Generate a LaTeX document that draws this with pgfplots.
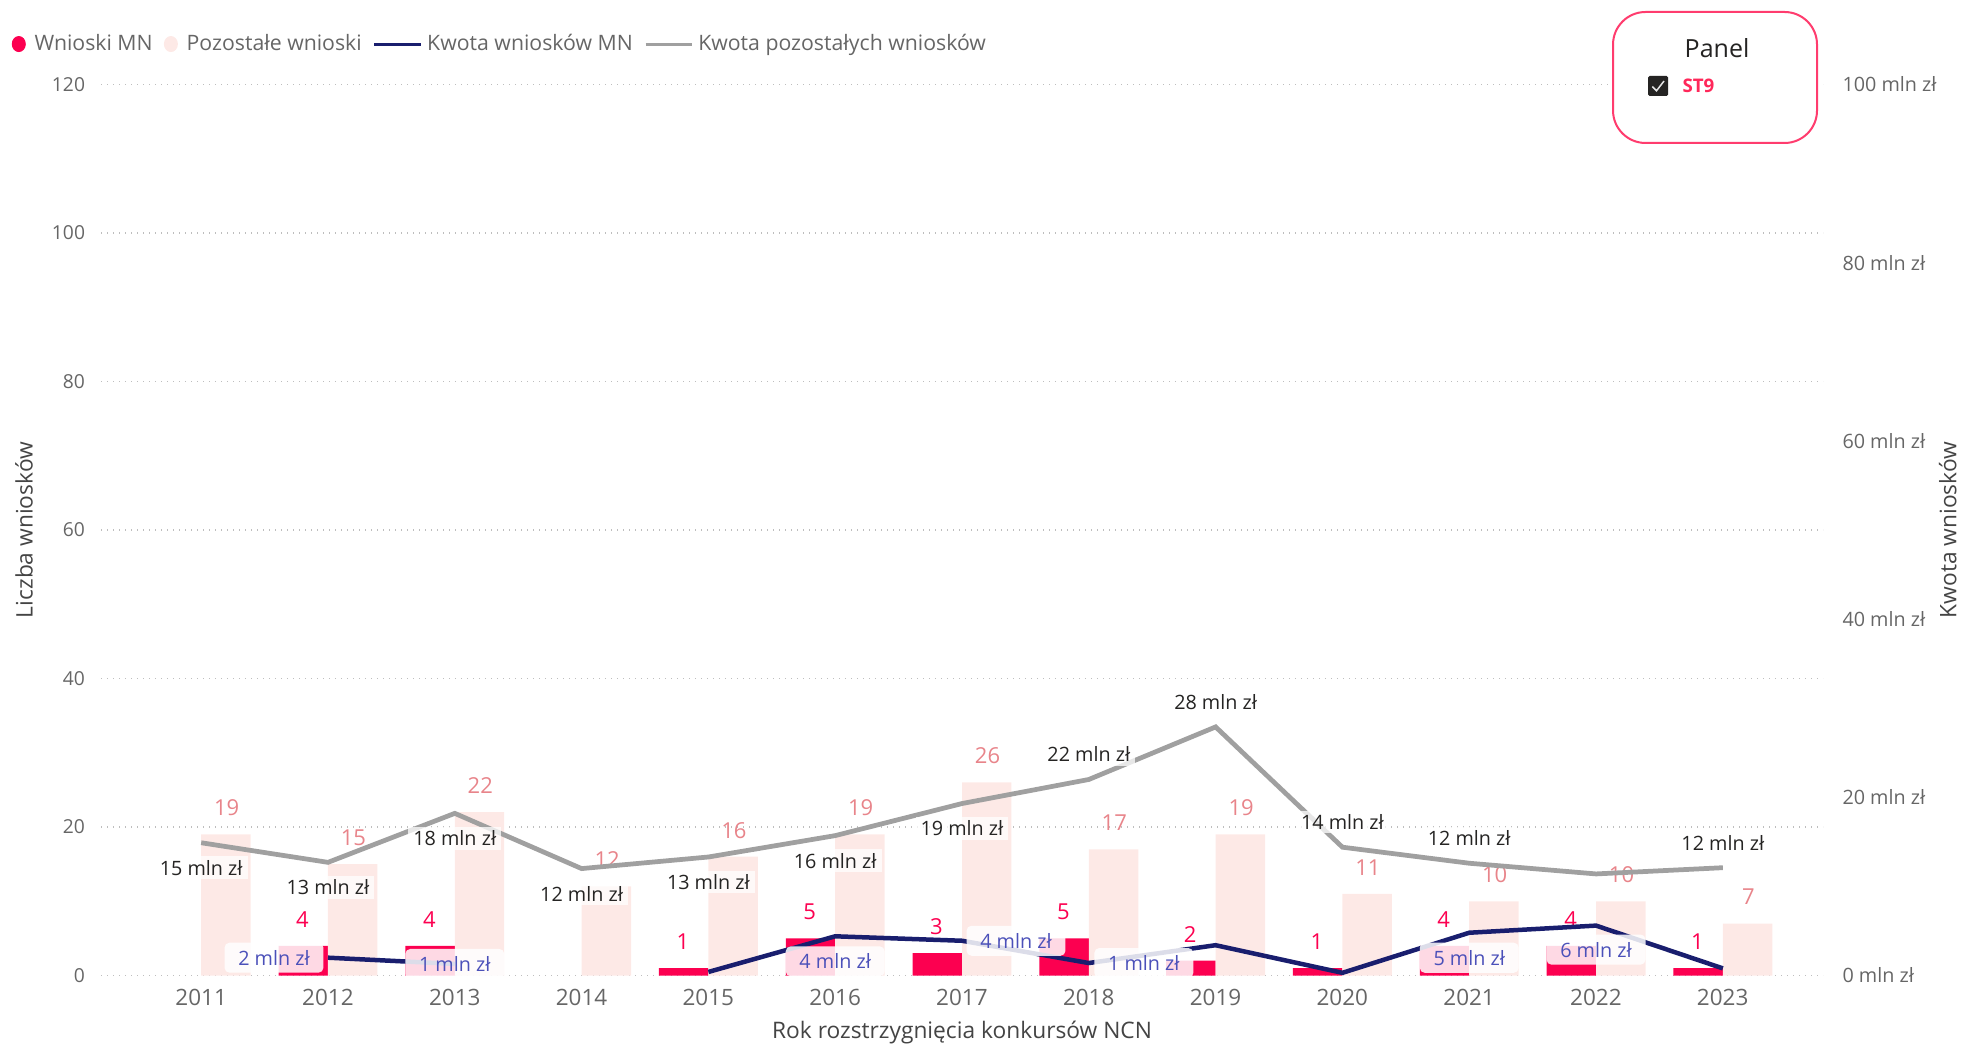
\documentclass[border=0pt]{standalone}
\usepackage{pgfplots}
\pgfplotsset{compat=1.18}
\usepackage{fontspec}
\setmainfont{Open Sans}
\definecolor{mnred}{RGB}{252,0,80}
\definecolor{pinkbar}{RGB}{253,233,230}
\definecolor{pinklabel}{RGB}{232,132,138}
\definecolor{navyline}{RGB}{25,30,110}
\definecolor{greyline}{RGB}{160,160,160}
\definecolor{bluelabel}{RGB}{75,80,185}
\definecolor{tickgray}{RGB}{102,102,102}
\definecolor{titlegray}{RGB}{68,68,68}
\definecolor{gridgray}{RGB}{190,190,190}
\definecolor{labelblack}{RGB}{37,36,35}
\definecolor{panelborder}{RGB}{255,60,110}
\definecolor{stred}{RGB}{255,40,90}
\tikzset{
  glab/.style={fill=white, fill opacity=0.75, text opacity=1, text=labelblack,
    font=\fontsize{7.9}{9}\selectfont, inner xsep=2pt, inner ysep=1.5pt, anchor=center},
  blab/.style={fill=white, fill opacity=0.85, text opacity=1, text=bluelabel,
    font=\fontsize{7.9}{9}\selectfont, rounded corners=2pt, inner xsep=5.5pt, inner ysep=3pt, anchor=center},
}
\begin{document}
\begin{tikzpicture}[x=1pt,y=1pt]
\path[use as bounding box] (0,0) rectangle (788.4,-419.2);
\pgfplotsset{
  every axis/.append style={
    scale only axis, width=688.8pt, height=356.4pt,
    at={(40.4pt,-390.2pt)}, anchor=south west,
    xmin=2010.21, xmax=2023.79,
    axis line style={draw=none}, major tick length=0pt,
    /pgf/number format/assume math mode=true,
    /pgf/number format/1000 sep={},
  },
}
\begin{axis}[
  ymin=0, ymax=120,
  ytick={0,20,...,120},
  xtick={2011,...,2023},
  ymajorgrids, grid style={dotted, gridgray, line width=0.7pt},
  xticklabel style={font=\fontsize{9}{10}\selectfont, text=tickgray, anchor=center, yshift=-8.8pt},
  yticklabel style={font=\fontsize{7.7}{9}\selectfont, text=tickgray, anchor=east, inner xsep=0pt, xshift=-6.2pt},
  xlabel={Rok rozstrzygnięcia konkursów NCN},
  ylabel={Liczba wniosków},
  xlabel style={font=\fontsize{9.1}{10}\selectfont, text=titlegray, at={(axis description cs:0.5,-0.0645)}, anchor=center},
  ylabel style={font=\fontsize{9.1}{10}\selectfont, text=titlegray, at={(axis description cs:-0.0447,0.5)}, anchor=center},
]
\addplot[ybar, bar width=0.39, bar shift=-0.195, fill=mnred, draw=none,
  nodes near coords,
  every node near coord/.append style={font=\fontsize{8.8}{10}\selectfont, text=mnred, anchor=center, yshift=10.6pt, xshift=-10.2pt}]
  coordinates {(2012,4) (2013,4) (2015,1) (2016,5) (2017,3) (2018,5) (2019,2) (2020,1) (2021,4) (2022,4) (2023,1)};
\addplot[ybar, bar width=0.39, bar shift=0.195, fill=pinkbar, draw=none,
  nodes near coords,
  every node near coord/.append style={font=\fontsize{8.8}{10}\selectfont, text=pinklabel, anchor=center, yshift=10.6pt, xshift=10.2pt}]
  coordinates {(2011,19) (2012,15) (2013,22) (2014,12) (2015,16) (2016,19) (2017,26) (2018,17) (2019,19) (2020,11) (2021,10) (2022,10) (2023,7)};
\end{axis}
\begin{axis}[
  ymin=0, ymax=100,
  axis x line=none, axis y line*=right,
  ytick={0,20,...,100},
  yticklabels={0 mln zł,20 mln zł,40 mln zł,60 mln zł,80 mln zł,100 mln zł},
  yticklabel style={font=\fontsize{7.9}{9}\selectfont, text=tickgray, anchor=west, inner xsep=0pt, xshift=7.6pt},
  ylabel={Kwota wniosków},
  ylabel style={font=\fontsize{9.1}{10}\selectfont, text=titlegray, at={(axis description cs:1.0725,0.5)}, anchor=center},
  legend columns=4,
  legend style={at={(axis description cs:-0.0521,1.0454)}, anchor=west, draw=none, fill=none,
    font=\fontsize{8.5}{10}\selectfont, text=tickgray, inner sep=0pt,
    /tikz/every even column/.append style={column sep=2.5pt},
    nodes={inner xsep=2pt}},
]
\addlegendimage{legend image code/.code={\fill[mnred] (3pt,0pt) ellipse (2.6pt and 3pt); \path (7.1pt,0pt);}}
\addlegendentry{Wnioski MN}
\addlegendimage{legend image code/.code={\fill[pinkbar] (3pt,0pt) ellipse (2.6pt and 3pt); \path (7.1pt,0pt);}}
\addlegendentry{Pozostałe wnioski}
\addplot[navyline, line width=1.8pt, unbounded coords=jump,
  legend image code/.code={\draw[navyline, line width=1.2pt] (0pt,0pt) -- (18.5pt,0pt);}]
  coordinates {(2012,2.0) (2013,1.3) (2014,nan) (2015,0.4) (2016,4.4) (2017,3.9) (2018,1.4) (2019,3.4) (2020,0.3) (2021,4.8) (2022,5.6) (2023,0.8)};
\addlegendentry{Kwota wniosków MN}
\addplot[greyline, line width=1.9pt,
  legend image code/.code={\draw[greyline, line width=1.2pt] (0pt,0pt) -- (18.5pt,0pt);}]
  coordinates {(2011,14.9) (2012,12.7) (2013,18.2) (2014,12.0) (2015,13.3) (2016,15.7) (2017,19.3) (2018,22.0) (2019,27.9) (2020,14.4) (2021,12.6) (2022,11.4) (2023,12.1)};
\addlegendentry{Kwota pozostałych wniosków}
% grey line labels
\node[glab, yshift=-10pt] at (axis cs:2011,14.9) {15 mln zł};
\node[glab, yshift=-10pt] at (axis cs:2012,12.7) {13 mln zł};
\node[glab, yshift=-10pt] at (axis cs:2013,18.2) {18 mln zł};
\node[glab, yshift=-10pt] at (axis cs:2014,12.0) {12 mln zł};
\node[glab, yshift=-10pt] at (axis cs:2015,13.3) {13 mln zł};
\node[glab, yshift=-10pt] at (axis cs:2016,15.7) {16 mln zł};
\node[glab, yshift=-10pt] at (axis cs:2017,19.3) {19 mln zł};
\node[glab, yshift=10pt] at (axis cs:2018,22.0) {22 mln zł};
\node[glab, yshift=10pt] at (axis cs:2019,27.9) {28 mln zł};
\node[glab, yshift=10pt] at (axis cs:2020,14.4) {14 mln zł};
\node[glab, yshift=10pt] at (axis cs:2021,12.6) {12 mln zł};
\node[glab, yshift=10pt] at (axis cs:2023,12.1) {12 mln zł};
% blue line labels
\node[blab, xshift=-21.6pt] at (axis cs:2012,2.0) {2 mln zł};
\node[blab] at (axis cs:2013,1.3) {1 mln zł};
\node[blab, yshift=-10pt] at (axis cs:2016,4.4) {4 mln zł};
\node[blab, xshift=21.6pt] at (axis cs:2017,3.9) {4 mln zł};
\node[blab, xshift=22pt] at (axis cs:2018,1.4) {1 mln zł};
\node[blab, yshift=-10pt] at (axis cs:2021,4.8) {5 mln zł};
\node[blab, yshift=-9.6pt] at (axis cs:2022,5.6) {6 mln zł};
\end{axis}
% slicer panel
\draw[panelborder, line width=0.8pt, fill=white, rounded corners=13pt] (645.2,-4.8) rectangle (726.8,-57.2);
\node[font=\fontsize{10}{12}\selectfont, text=labelblack] at (686.8,-19.2) {Panel};
\fill[labelblack, rounded corners=0.6pt] (659.2,-30.4) rectangle (667.2,-38.4);
\draw[white!80!gray, line width=0.6pt] (660.9,-34.6) -- (662.6,-36.3) -- (665.6,-32.4);
\node[font=\fontsize{7.5}{9}\selectfont\bfseries, text=stred, anchor=west, inner sep=0pt] at (672.8,-34.4) {ST9};
\end{tikzpicture}
\end{document}
